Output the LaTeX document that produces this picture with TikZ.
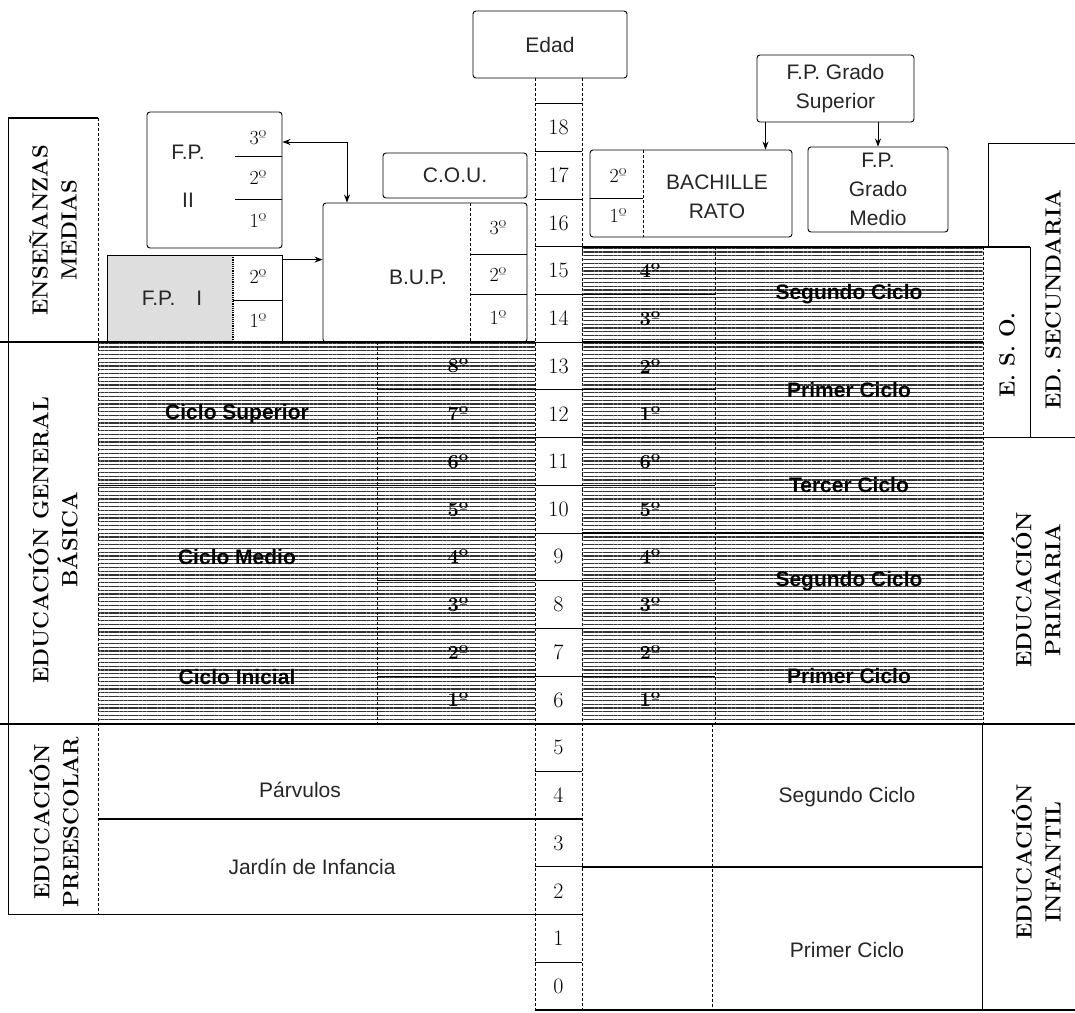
\documentclass[tikz,border=0pt]{standalone}
\usepackage{fontspec}
\setsansfont{Liberation Sans}
\usetikzlibrary{arrows.meta,patterns.meta}

\tikzset{
  box/.style={draw, line width=0.9pt, rounded corners=3pt, inner sep=0pt},
  heavy/.style={line width=1.6pt},
  rowline/.style={line width=1pt},
  sep/.style={densely dashed, line width=0.5pt},
  hatch/.style={pattern={Lines[angle=0,distance=3.8pt,line width=1.3pt]}, pattern color=black!80},
  lab/.style={font=\fontsize{21}{29}\selectfont\sffamily, text=black!85, align=center},
  darklab/.style={font=\fontsize{21}{29}\selectfont\sffamily\bfseries},
  grade/.style={font=\fontsize{20}{24}\selectfont},
  darkgrade/.style={font=\fontsize{20}{24}\selectfont\bfseries},
  agenum/.style={font=\fontsize{22}{26}\selectfont},
  sidelab/.style={rotate=90, align=center, font=\fontsize{22}{29}\selectfont\bfseries},
}

\begin{document}
\begin{tikzpicture}[x=1pt,y=-1pt,>={Stealth[length=8pt,width=6pt]}]
\useasboundingbox (0,0) rectangle (1075,1012);

% edad
\node[box, lab, minimum width=154pt, minimum height=67pt] (edad) at (550,44.5) {Edad};
\draw[sep] (535,78) -- (535,1010);
\draw[sep] (582,78) -- (582,1010);
\foreach \k in {1,...,19} \draw[rowline] (535,{1010-47.7*\k}) -- (582,{1010-47.7*\k});
\foreach \a in {0,...,18} \node[agenum] (age\a) at (558.5,{1010-47.7*(\a+0.5)}) {\a};

% columna izquierda
\draw[heavy] (8,118) -- (98,118);
\draw[rowline] (8,118) -- (8,914.6);
\draw[sep] (98,118) -- (98,914.6);
\node[sidelab] (medias) at (53,230) {ENSEÑANZAS\\MEDIAS};
\node[sidelab] (egb) at (53,540) {EDUCACIÓN GENERAL\\BÁSICA};
\node[sidelab] (preesc) at (54,822) {EDUCACIÓN\\PREESCOLAR};

% E.G.B.
\fill[hatch] (98,342.2) rectangle (535,723.8);
\draw[sep] (377,342.2) -- (377,723.8);
\foreach \y in {485.3,628.4} \draw[heavy] (98,\y) -- (535,\y);
\foreach \y in {389.9,437.6,533.0,580.7,676.1} \draw[rowline] (377,\y) -- (535,\y);
\node[darklab] (egbsup) at (237,414) {Ciclo Superior};
\node[darklab] (egbmed) at (237,557) {Ciclo Medio};
\node[darklab] (egbini) at (237,677) {Ciclo Inicial};
\foreach \g in {1,...,8} \node[darkgrade] (egb\g) at (458,{1010-47.7*(\g+5.5)}) {\g{}º};

% F.P. II
\node[box, minimum width=135pt, minimum height=136pt] (fpii) at (214.5,180) {};
\draw[rowline] (235,156) -- (282,156);
\draw[rowline] (235,199) -- (282,199);
\node[lab] (fpiia) at (188,152) {F.P.};
\node[lab] (fpiib) at (188,200) {II};
\node[grade] (fpii3) at (258,138) {3º};
\node[grade] (fpii2) at (258,178) {2º};
\node[grade] (fpii1) at (258,221) {1º};

% F.P. I
\fill[black!13] (107,255) rectangle (233,342.2);
\node[box, rounded corners=0pt, minimum width=175pt, minimum height=87.2pt] (fpi) at (194.5,298.6) {};
\draw[densely dotted, line width=1.2pt] (233,255) -- (233,342.2);
\draw[rowline] (233,300) -- (282,300);
\node[lab] (fpia) at (172,298) {F.P.\quad I};
\node[grade] (fpi2) at (258,277) {2º};
\node[grade] (fpi1) at (258,321) {1º};

% B.U.P. y C.O.U.
\node[box, minimum width=204pt, minimum height=139.2pt] (bup) at (425,272.6) {};
\draw[sep] (470,203) -- (470,342.2);
\draw[rowline] (470,254) -- (527,254);
\draw[rowline] (470,294.5) -- (527,294.5);
\node[lab] (bupa) at (418,277) {B.U.P.};
\node[grade] (bup3) at (498,228) {3º};
\node[grade] (bup2) at (498,275) {2º};
\node[grade] (bup1) at (498,318) {1º};
\node[box, lab, minimum width=144pt, minimum height=45pt] (cou) at (455,175.5) {C.O.U.};

% enlaces
\coordinate (fpiiout) at ([yshift=38pt]fpii.east);
\coordinate (bupin) at ([xshift=-78pt]bup.north);
\draw[<->, rowline] (fpiiout) -| (bupin);
\coordinate (fpiout) at ([yshift=39pt]fpi.east);
\draw[->, rowline] (fpiout) -- (fpiout -| bup.west);

% bachillerato y F.P.
\node[box, minimum width=202pt, minimum height=87pt] (bach) at (691,193.5) {};
\draw[sep] (643,150) -- (643,237);
\draw[rowline] (590,198) -- (643,198);
\node[grade] (bach2) at (618,176) {2º};
\node[grade] (bach1) at (618,216) {1º};
\node[lab] (bacha) at (717,197) {BACHILLE\\RATO};
\node[box, lab, minimum width=140pt, minimum height=85pt] (medio) at (878,189.5) {F.P.\\Grado\\Medio};
\node[box, lab, minimum width=157pt, minimum height=67pt] (fpsup) at (835.5,88.5) {F.P. Grado\\Superior};
\coordinate (supl) at ([xshift=-70pt]fpsup.south);
\draw[->, rowline] (supl) -- (supl |- bach.north);
\draw[->, rowline] (fpsup.south -| medio.north) -- (medio.north);

% E.S.O. y primaria
\fill[hatch] (582,246.8) rectangle (983,723.8);
\draw[sep] (715,246.8) -- (715,723.8);
\draw[sep] (983,246.8) -- (983,723.8);
\draw[heavy] (582,246.8) -- (1030,246.8);
\draw[rowline] (1030,246.8) -- (1030,437.6);
\draw[rowline] (1075,143) -- (988,143) -- (988,246.8);
\draw[heavy] (582,437.6) -- (1075,437.6);
\foreach \y in {342.2,533.0,628.4} \draw[heavy] (582,\y) -- (983,\y);
\foreach \y in {294.5,389.9,485.3,580.7,676.1} \draw[rowline] (582,\y) -- (715,\y);
\foreach \g in {1,...,4} \node[darkgrade] (eso\g) at (650,{1010-47.7*(\g+11.5)}) {\g{}º};
\foreach \g in {1,...,6} \node[darkgrade] (pri\g) at (650,{1010-47.7*(\g+5.5)}) {\g{}º};
\node[darklab] (esoseg) at (849,294.5) {Segundo Ciclo};
\node[darklab] (esopri) at (849,389.9) {Primer Ciclo};
\node[darklab] (priter) at (849,485.3) {Tercer Ciclo};
\node[darklab] (priseg) at (849,580.7) {Segundo Ciclo};
\node[darklab] (pripri) at (849,676.1) {Primer Ciclo};
\node[sidelab] (eso) at (1007,355) {E. S. O.};
\node[sidelab] (edsec) at (1053,300) {ED. SECUNDARIA};
\node[sidelab] (prim) at (1036,590) {EDUCACIÓN\\PRIMARIA};

% lineas generales
\draw[heavy] (0,342.2) -- (535,342.2);
\draw[heavy] (0,723.8) -- (1075,723.8);
\draw[heavy] (535,1010) -- (1075,1010);

% preescolar e infantil
\draw[heavy] (98,819.2) -- (582,819.2);
\draw[heavy] (8,914.6) -- (582,914.6);
\node[lab] (parv) at (300,790) {Párvulos};
\node[lab] (jardin) at (312,867) {Jardín de Infancia};
\draw[rowline] (982,723.8) -- (982,1010);
\draw[sep] (712,723.8) -- (712,1010);
\draw[heavy] (582,866.9) -- (982,866.9);
\node[lab] (infseg) at (847,797) {Segundo Ciclo};
\node[lab] (infpri) at (847,950) {Primer Ciclo};
\node[sidelab] (inf) at (1036,862) {EDUCACIÓN\\INFANTIL};
\end{tikzpicture}
\end{document}
